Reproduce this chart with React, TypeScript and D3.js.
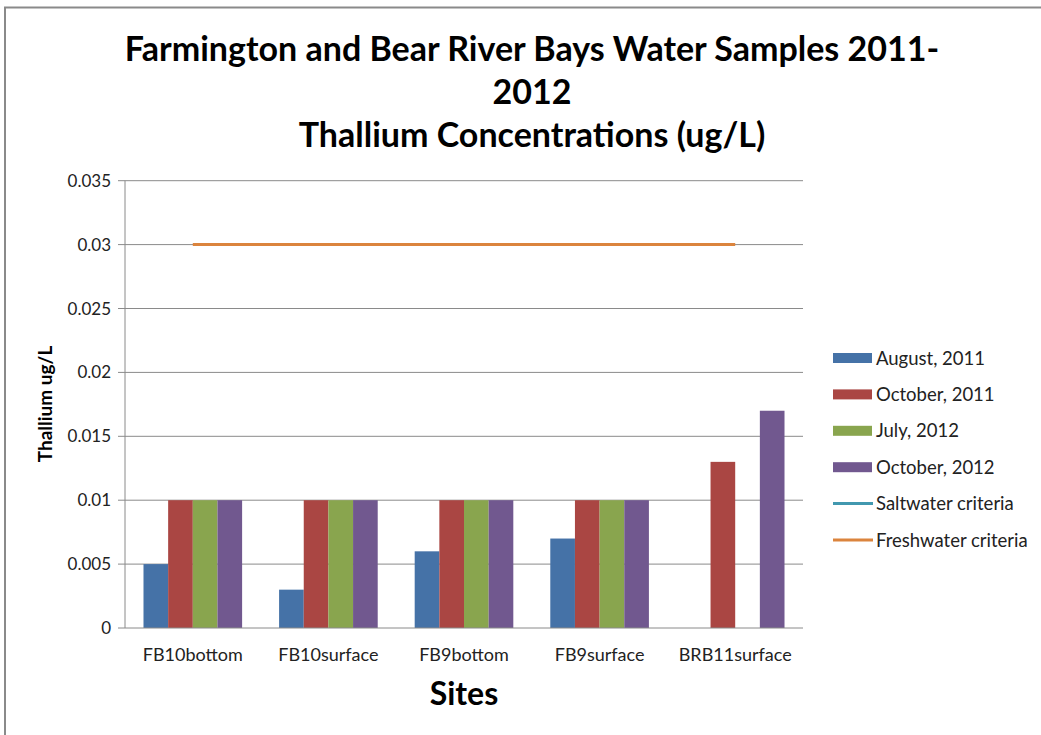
import React from "react";
import * as d3 from "d3";

const sites = ["FB10bottom", "FB10surface", "FB9bottom", "FB9surface", "BRB11surface"];
const seriesNames = ["August, 2011", "October, 2011", "July, 2012", "October, 2012"];
const august2011 = [0.005, 0.003, 0.006, 0.007, null];
const october2011 = [0.01, 0.01, 0.01, 0.01, 0.013];
const july2012 = [0.01, 0.01, 0.01, 0.01, null];
const october2012 = [0.01, 0.01, 0.01, 0.01, 0.017];
const saltwaterCriteria: (number | null)[] = [null, null, null, null, null];
const freshwaterCriteria = [0.03, 0.03, 0.03, 0.03, 0.03];
const yTicks = [0, 0.005, 0.01, 0.015, 0.02, 0.025, 0.03, 0.035];
const yTickLabels = ["0", "0.005", "0.01", "0.015", "0.02", "0.025", "0.03", "0.035"];
const titleLines = ["Farmington and Bear River Bays Water Samples 2011-", "2012", "Thallium Concentrations (ug/L)"];

const barColors = ["#4572A7", "#AA4643", "#89A54E", "#71588F"];
const saltColor = "#4198AF";
const freshColor = "#DB843D";
const gridColor = "#8a8a8a";
const FONT = "Lato, 'Open Sans', sans-serif";

export default function App() {
  const W = 1041, H = 735;
  const left = 125, right = 803, top = 180.7, bottom = 628;
  const x0 = d3.scaleBand<string>().domain(sites).range([left, right]).paddingInner(0).paddingOuter(0);
  const x1 = d3.scaleBand<string>().domain(seriesNames).range([0, x0.bandwidth()]).paddingInner(0).paddingOuter(0.75);
  const y = d3.scaleLinear().domain([0, 0.035]).range([bottom, top]);
  const seriesData = [august2011, october2011, july2012, october2012];

  const lineGen = d3.line<number | null>()
    .defined((d) => d != null)
    .x((_, i) => (x0(sites[i]) as number) + x0.bandwidth() / 2)
    .y((d) => y(d as number));

  const legendItems = [
    ...seriesNames.map((n, i) => ({ name: n, color: barColors[i], type: "rect" })),
    { name: "Saltwater criteria", color: saltColor, type: "line" },
    { name: "Freshwater criteria", color: freshColor, type: "line" },
  ];
  const legendY0 = 358, legendStep = 36.4;

  return (
    <svg width={W} height={H} style={{ position: "absolute", left: 0, top: 0, background: "#fff" }} fontFamily={FONT}>
      <rect x={0} y={0} width={W} height={H} fill="#fff" />
      {/* frame */}
      <path d={`M5,${H} L5,7.5 L${W},7.5`} fill="none" stroke="#8a8a8a" strokeWidth={2} />
      {/* title */}
      {titleLines.map((t, i) => (
        <text key={i} x={532} y={61 + i * 43} textAnchor="middle" fontSize={34} fontWeight="bold" fill="#000">{t}</text>
      ))}
      {/* gridlines */}
      {yTicks.map((t, i) => (
        <g key={i}>
          {t > 0 && <line x1={left} x2={right} y1={y(t)} y2={y(t)} stroke={gridColor} strokeWidth={1} />}
          <line x1={left - 7} x2={left} y1={y(t)} y2={y(t)} stroke={gridColor} strokeWidth={1} />
          <text x={111} y={y(t) + 6} textAnchor="end" fontSize={17} fill="#222">{yTickLabels[i]}</text>
        </g>
      ))}
      {/* bars */}
      {seriesData.map((vals, si) =>
        vals.map((v, ci) =>
          v == null ? null : (
            <rect
              key={`${si}-${ci}`}
              x={(x0(sites[ci]) as number) + (x1(seriesNames[si]) as number)}
              y={y(v)}
              width={x1.bandwidth()}
              height={bottom - y(v)}
              fill={barColors[si]}
            />
          )
        )
      )}
      {/* axes */}
      <line x1={left} x2={left} y1={top} y2={bottom} stroke={gridColor} strokeWidth={1} />
      <line x1={left} x2={right} y1={bottom} y2={bottom} stroke={gridColor} strokeWidth={1} />
      {/* criteria lines */}
      <path d={lineGen(saltwaterCriteria) || ""} fill="none" stroke={saltColor} strokeWidth={3} />
      <path d={lineGen(freshwaterCriteria) || ""} fill="none" stroke={freshColor} strokeWidth={3} />
      {/* x labels */}
      {sites.map((s) => (
        <text key={s} x={(x0(s) as number) + x0.bandwidth() / 2} y={661} textAnchor="middle" fontSize={18} fill="#222">{s}</text>
      ))}
      <text x={464} y={705} textAnchor="middle" fontSize={32} fontWeight="bold" fill="#000">Sites</text>
      <text transform={`translate(52,404) rotate(-90)`} textAnchor="middle" fontSize={19} fontWeight="bold" fill="#000">Thallium ug/L</text>
      {/* legend */}
      {legendItems.map((it, i) => {
        const cy = legendY0 + i * legendStep;
        return (
          <g key={it.name}>
            {it.type === "rect" ? (
              <rect x={833} y={cy - 5} width={39} height={10} fill={it.color} />
            ) : (
              <line x1={833} x2={873} y1={cy} y2={cy} stroke={it.color} strokeWidth={3} />
            )}
            <text x={876} y={cy + 6.5} fontSize={18.5} fill="#222">{it.name}</text>
          </g>
        );
      })}
    </svg>
  );
}
